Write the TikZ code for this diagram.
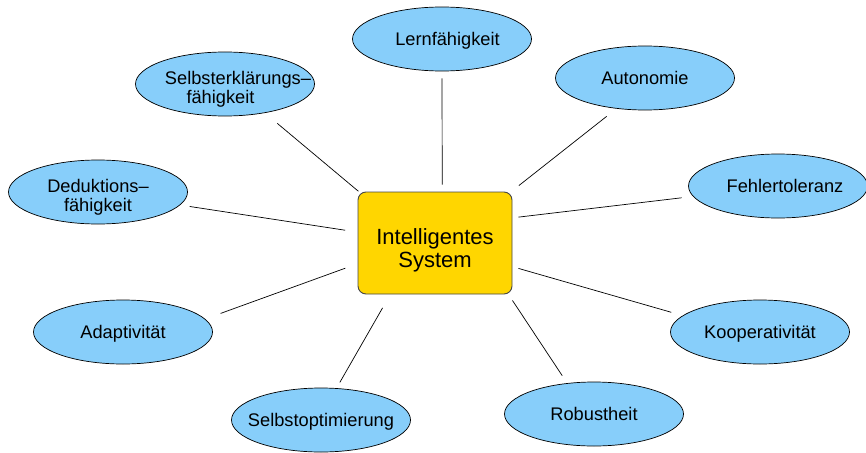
\documentclass[tikz,border=0pt]{standalone}
\usepackage{fontspec}
\setmainfont{Liberation Sans}
\usepackage{xcolor}
\usetikzlibrary{shapes.geometric}
\definecolor{ovalblue}{RGB}{135,206,250}
\definecolor{boxgold}{RGB}{255,214,0}
\definecolor{boxedge}{RGB}{70,70,70}
\newcommand{\ovltext}[2]{\makebox[0pt]{\smash{\raisebox{#1}{\begin{tabular}[t]{@{}c@{}}#2\end{tabular}}}}}

\begin{document}
\begin{tikzpicture}[x=1pt,y=-1pt,
                oval/.style={ellipse, draw=black, line width=.7pt, fill=ovalblue, minimum width=179pt, minimum height=64pt, inner sep=0pt, font=\fontsize{18.25}{18.7}\selectfont},
                core/.style={rectangle, rounded corners=8pt, draw=boxedge, line width=.9pt, fill=boxgold, minimum width=154pt, minimum height=102pt, inner sep=0pt, font=\fontsize{22}{21}\selectfont},
                link/.style={line width=.7pt}]
                \useasboundingbox (0,0) rectangle (866,452);

                \node[core] (sys) at (435,243){\ovltext{-1pt}{Intelligentes\\[1.5pt]System}};

                \node[oval] (lern) at (442,39){\ovltext{-6.5pt}{\hspace*{11pt}Lernfähigkeit}};
                \draw [link, shorten <=7pt, shorten >=7pt] (lern.270) -- (sys.82.2);

                \node[oval] (auto) at (645,78){\ovltext{-6.5pt}{Autonomie}};
                \draw [link, shorten <=12.4pt, shorten >=9.7pt] (auto.227) -- (sys.34.1);

                \node[oval] (fehl) at (778,186){\ovltext{-6.5pt}{\hspace*{14pt}Fehlertoleranz}};
                \draw [link, shorten <=11.5pt, shorten >=6pt] (fehl.187.3) -- (sys.18.2);

                \node[oval] (koop) at (760,332){\ovltext{-6.5pt}{Kooperativität}};
                \draw [link, shorten <=11.8pt, shorten >=6.3pt] (koop.168.6) -- (sys.343.2);

                \node[oval] (robu) at (594,414){\ovltext{-6.5pt}{Robustheit}};
                \draw [link, shorten <=9pt, shorten >=7.2pt] (robu.131.6) -- (sys.325.1);

                \node[oval] (sopt) at (321,420){\ovltext{-6.5pt}{Selbstoptimierung}};
                \draw [link, shorten <=6.6pt, shorten >=15.5pt] (sopt.64.8) -- (sys.229.8);

                \node[oval] (adap) at (123,332){\ovltext{-6.5pt}{Adaptivität}};
                \draw [link, shorten <=16.3pt, shorten >=13pt] (adap.9.6) -- (sys.195.3);

                \node[oval] (dedu) at (98,192){\ovltext{-.7pt}{Deduktions–\\[-.4pt]fähigkeit}};
                \draw [link, shorten <=9.6pt, shorten >=12.5pt] (dedu.351.8) -- (sys.172.4);

                \node[oval] (serk) at (225,84){\ovltext{-.7pt}{\hspace*{26pt}Selbsterklärungs–\\[-.4pt]fähigkeit\hspace*{9pt}}};
                \draw [link, shorten <=16.1pt, shorten >=.4pt] (serk.324.1) -- (sys.146.3);
            \end{tikzpicture}
\end{document}
